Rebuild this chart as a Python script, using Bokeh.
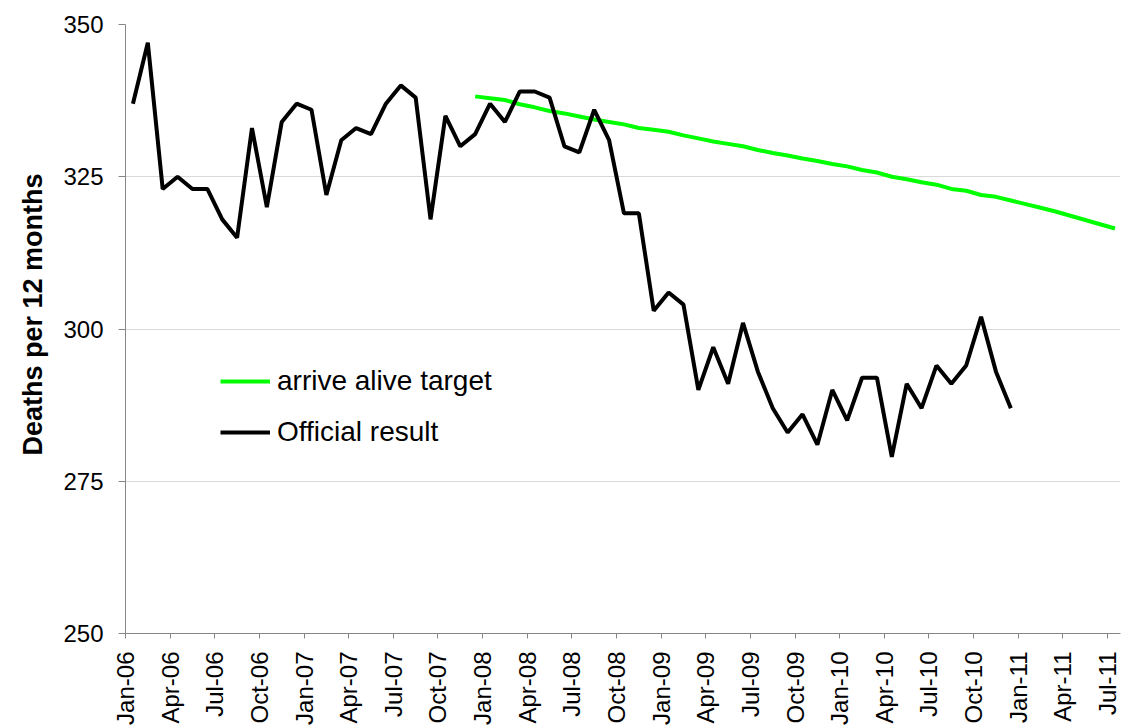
import math
from bokeh.plotting import figure
from bokeh.models import (ColumnDataSource, FixedTicker, Legend, LegendItem, Title, Range1d)
from bokeh.embed import file_html
from bokeh.resources import INLINE

# ---- data ----
official_start = "Jan-06"
official = [337, 347, 323, 325, 323, 323, 318, 315, 333, 320,
            334, 337, 336, 322, 331, 333, 332, 337, 340, 338,
            318, 335, 330, 332, 337, 334, 339, 339, 338, 330,
            329, 336, 331, 319, 319, 303, 306, 304, 290, 297,
            291, 301, 293, 287, 283, 286, 281, 290, 285, 292,
            292, 279, 291, 287, 294, 291, 294, 302, 293, 287]

target_start = "Dec-07"
target = [338.2, 337.9, 337.6, 336.9, 336.4, 335.8, 335.4, 334.9, 334.4, 334.0,
          333.6, 333.0, 332.7, 332.4, 331.8, 331.3, 330.8, 330.4, 330.0, 329.4,
          328.9, 328.5, 328.0, 327.6, 327.1, 326.7, 326.1, 325.7, 325.0, 324.6,
          324.1, 323.7, 323.0, 322.7, 322.0, 321.7, 321.1, 320.5, 319.9, 319.3,
          318.6, 317.9, 317.2, 316.5]

tick_labels = ["Jan-06", "Apr-06", "Jul-06", "Oct-06", "Jan-07", "Apr-07", "Jul-07", "Oct-07",
               "Jan-08", "Apr-08", "Jul-08", "Oct-08", "Jan-09", "Apr-09", "Jul-09", "Oct-09",
               "Jan-10", "Apr-10", "Jul-10", "Oct-10", "Jan-11", "Apr-11", "Jul-11"]
y_ticks = [250, 275, 300, 325, 350]

series_names = ["arrive alive target", "Official result"]
y_title = "Deaths per 12 months"

MONTHS = ["Jan", "Feb", "Mar", "Apr", "May", "Jun", "Jul", "Aug", "Sep", "Oct", "Nov", "Dec"]


def month_index(lbl):
    m, y = lbl.split("-")
    return (int(y) - 6) * 12 + MONTHS.index(m)


# data points sit at mid-month on a monthly date axis
off0 = month_index(official_start)
x_off = [off0 + i + 0.5 for i in range(len(official))]
tg0 = month_index(target_start)
x_tg = [tg0 + i + 0.5 for i in range(len(target))]
tick_pos = [month_index(t) for t in tick_labels]

FONT = "Liberation Sans"

p = figure(width=1121, height=727, output_backend="svg", toolbar_location=None,
           x_range=Range1d(0, 66.87), y_range=Range1d(250, 350),
           min_border_left=125, min_border_right=1, min_border_top=24, min_border_bottom=10)
p.outline_line_color = None
p.background_fill_color = "white"
p.border_fill_color = "white"

p.xgrid.visible = False
p.ygrid.grid_line_color = "#d9d9d9"
p.ygrid.grid_line_width = 1

p.yaxis.ticker = FixedTicker(ticks=y_ticks)
p.xaxis.ticker = FixedTicker(ticks=tick_pos)
p.xaxis.major_label_overrides = {pos: lbl for pos, lbl in zip(tick_pos, tick_labels)}
p.xaxis.major_label_orientation = math.pi / 2

for ax in (p.xaxis[0], p.yaxis[0]):
    ax.axis_line_color = "#868686"
    ax.axis_line_width = 1
    ax.major_tick_line_color = "#868686"
    ax.major_tick_in = 0
    ax.minor_tick_line_color = None
    ax.major_label_text_font = FONT
    ax.major_label_text_color = "black"

p.yaxis.major_tick_out = 7
p.yaxis.major_label_standoff = 15
p.yaxis.major_label_text_font_size = "24px"
p.xaxis.major_tick_out = 5
p.xaxis.major_label_standoff = 13
p.xaxis.major_label_text_font_size = "24px"

src_tg = ColumnDataSource(dict(x=x_tg, y=target))
src_off = ColumnDataSource(dict(x=x_off, y=official))
r_tg = p.line("x", "y", source=src_tg, line_color="#00ff00", line_width=4)
r_off = p.line("x", "y", source=src_off, line_color="black", line_width=4)

legend = Legend(items=[LegendItem(label=series_names[0], renderers=[r_tg]),
                       LegendItem(label=series_names[1], renderers=[r_off])],
                location=(95, 183), padding=0, margin=0, spacing=15,
                glyph_width=50, glyph_height=36, label_height=36, label_standoff=7,
                label_text_font=FONT, label_text_font_size="28px",
                label_text_color="black",
                border_line_color=None, background_fill_alpha=0)
p.add_layout(legend, "center")

ytitle = Title(text=y_title, align="right", offset=149, standoff=25,
               text_font=FONT, text_font_style="bold", text_font_size="27px",
               text_color="black")
p.add_layout(ytitle, "left")

open("out.html", "w").write(file_html(p, INLINE))
